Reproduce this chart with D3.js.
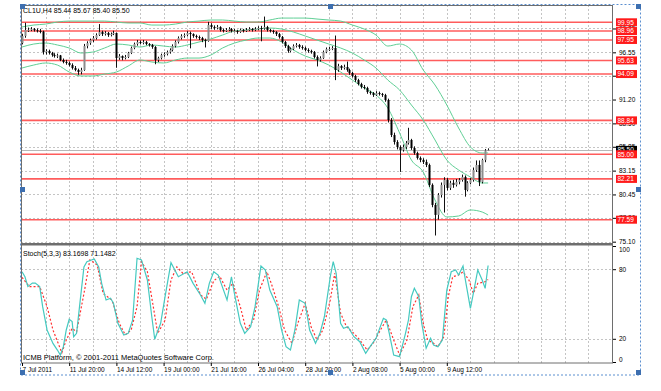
<!DOCTYPE html>
<html>
<head>
<meta charset="utf-8">
<script src="https://cdn.jsdelivr.net/npm/d3@7/dist/d3.min.js"></script>
<style>
  body { margin: 0; background: #fff; }
  text { font-family: "Liberation Sans", Arial, sans-serif; }
</style>
</head>
<body>
<div id="chart"></div>
<script>
//chart data (CL1U, H4)
var opens = [97.60,98.40,99.08,99.10,99.19,99.05,98.97,98.90,96.58,96.70,96.47,96.24,96.13,96.20,95.68,95.45,95.34,95.11,94.77,94.55,
	94.32,94.55,97.26,97.60,97.94,98.17,98.51,98.85,98.62,98.74,98.51,98.62,98.74,95.90,96.13,95.90,96.02,96.47,97.04,97.49,
	97.72,97.60,97.72,97.49,97.38,97.15,95.68,95.90,96.24,96.36,96.58,96.81,97.26,97.72,98.17,98.40,98.51,98.74,98.62,98.40,
	98.28,98.17,97.94,97.83,99.64,99.42,99.30,99.42,99.08,98.97,99.08,99.19,98.90,98.97,98.85,99.08,98.97,99.08,99.19,99.08,
	99.19,99.30,99.25,99.42,99.08,98.97,98.85,98.62,98.28,97.72,97.26,96.70,96.92,97.26,97.38,97.15,97.04,96.81,96.70,96.58,
	96.02,95.68,95.90,96.58,96.85,96.92,97.04,94.55,95.00,94.77,94.89,94.55,94.21,93.87,93.41,92.96,92.62,92.51,92.05,91.94,
	91.71,91.94,91.83,91.71,91.15,88.88,87.18,86.39,85.82,85.48,85.82,86.28,86.62,85.71,85.15,84.58,84.36,84.13,83.79,81.53,
	79.26,78.13,80.39,81.53,82.09,81.19,81.76,81.53,81.87,82.09,82.43,80.96,81.76,82.09,83.22,83.79,81.87,84.36,85.44];
var highs = [98.65,99.90,99.35,99.40,99.30,99.25,99.20,99.00,96.90,96.85,96.60,96.45,96.40,96.25,95.85,95.70,95.50,95.30,95.00,94.70,
	94.80,97.50,97.80,98.10,98.40,98.70,99.75,99.00,98.95,98.85,98.80,99.00,98.80,96.35,96.20,96.25,96.60,97.20,97.65,97.95,
	97.90,97.95,97.85,97.60,97.50,97.25,96.05,96.40,96.55,96.75,97.00,97.45,97.90,98.35,98.60,98.70,98.95,98.90,98.70,98.55,
	98.45,98.30,98.10,100.00,99.85,99.60,99.65,99.50,99.25,99.30,99.40,99.30,99.20,99.10,99.25,99.20,99.30,99.40,99.30,99.40,
	99.50,99.55,100.60,99.55,99.20,99.10,98.95,98.75,98.40,97.85,97.40,97.10,97.45,97.60,97.50,97.35,97.20,97.00,96.85,96.70,
	96.20,96.10,96.75,97.10,97.15,97.25,98.45,95.25,95.10,95.15,95.50,94.70,94.35,94.00,93.55,93.10,92.85,92.65,92.20,92.05,
	92.15,92.10,91.95,91.85,91.30,89.10,87.45,86.60,86.00,86.10,86.50,88.00,86.75,85.90,85.30,84.75,84.55,84.40,83.95,81.70,
	79.50,80.60,81.80,82.40,82.30,82.00,82.10,82.20,82.30,82.70,82.60,81.95,82.30,83.50,84.30,84.30,84.50,85.60,85.67];
var lows = [97.45,98.20,98.85,98.95,98.90,98.80,98.70,96.30,96.30,96.30,96.05,95.95,95.90,95.55,95.30,95.15,94.95,94.60,94.40,94.00,
	94.05,94.45,97.00,97.40,97.70,98.00,98.40,98.40,98.45,98.30,98.35,98.50,94.80,95.70,95.65,95.75,95.90,96.35,96.90,97.30,
	97.45,97.45,97.35,97.20,96.95,95.20,95.45,95.75,96.05,96.20,96.40,96.65,97.10,97.55,98.00,98.20,98.35,97.00,98.20,98.10,
	97.95,97.70,97.10,97.75,99.20,99.10,99.15,98.90,98.80,98.85,98.95,98.80,98.80,98.65,98.75,98.80,98.85,98.95,98.90,98.95,
	99.05,97.80,99.10,98.90,98.80,98.65,98.40,98.10,97.55,97.05,96.50,96.55,96.80,97.10,96.95,96.85,96.65,96.50,96.40,95.85,
	94.95,95.50,95.80,96.45,96.70,96.80,93.40,94.35,94.55,94.60,94.35,94.00,93.70,93.20,92.80,92.45,92.35,91.85,91.75,91.50,
	91.60,91.65,91.50,90.95,88.60,86.95,86.10,85.55,83.00,85.30,85.60,86.10,85.50,84.95,84.40,84.10,83.90,83.55,81.30,79.00,
	75.80,77.60,80.10,78.40,80.90,80.95,81.20,81.35,81.60,81.90,80.20,80.80,81.60,81.90,83.00,81.40,81.70,84.10,85.40];
var closes = [98.40,99.08,99.10,99.19,99.05,98.97,98.90,96.58,96.70,96.47,96.24,96.13,96.20,95.68,95.45,95.34,95.11,94.77,94.55,94.32,
	94.55,97.26,97.60,97.94,98.17,98.51,98.85,98.62,98.74,98.51,98.62,98.74,95.90,96.13,95.90,96.02,96.47,97.04,97.49,97.72,
	97.60,97.72,97.49,97.38,97.15,95.68,95.90,96.24,96.36,96.58,96.81,97.26,97.72,98.17,98.40,98.51,98.74,98.62,98.40,98.28,
	98.17,97.94,97.83,99.64,99.42,99.30,99.42,99.08,98.97,99.08,99.19,98.97,98.97,98.85,99.08,98.97,99.08,99.19,99.08,99.19,
	99.30,99.25,99.42,99.08,98.97,98.85,98.62,98.28,97.72,97.26,96.70,96.92,97.26,97.38,97.15,97.04,96.81,96.70,96.58,96.02,
	95.68,95.90,96.58,96.92,96.92,97.04,94.55,95.00,94.77,94.89,94.55,94.21,93.87,93.41,92.96,92.62,92.51,92.05,91.94,91.71,
	91.94,91.83,91.71,91.15,88.88,87.18,86.39,85.82,85.48,85.82,86.28,86.62,85.71,85.15,84.58,84.36,84.13,83.79,81.53,79.26,
	78.13,80.39,81.53,82.09,81.19,81.76,81.53,81.87,82.09,82.43,80.96,81.76,82.09,83.22,83.79,81.87,84.36,85.44,85.50];

//Bollinger bands, sampled every 4 bars
var bandBars = [0,4,8,12,16,20,24,28,32,36,40,44,48,52,56,60,64,68,72,76,80,84,88,92,96,100,104,108,112,116,120,124,128,132,136,140,144,148,152,156,158];
var bandUpper = [99.42,99.64,99.75,99.98,100.09,100.09,100.09,100.09,99.98,99.87,99.87,99.64,99.64,99.75,99.98,100.09,100.21,100.21,100.09,99.98,
	99.98,100.21,100.43,100.43,100.43,100.32,100.21,100.09,99.64,99.19,98.51,97.26,97.49,96.81,94.55,92.85,90.58,87.98,85.83,85.15,85.15];
var bandMiddle = [97.15,97.49,97.60,97.38,97.04,96.47,96.58,97.04,97.49,97.38,97.15,97.38,97.26,97.15,97.38,97.72,98.06,98.51,98.97,99.08,
	99.19,99.30,99.19,98.85,98.40,97.94,97.49,97.04,96.47,95.68,94.77,93.41,92.28,90.58,88.88,86.62,84.35,83.22,82.43,81.75,81.75];
var bandLower = [94.77,95.11,95.34,95.11,94.32,93.87,93.87,94.09,94.32,95.00,95.68,95.45,95.34,95.68,95.90,95.90,96.24,97.04,97.60,97.94,
	98.17,98.17,97.72,96.81,96.13,95.68,95.11,94.32,93.41,92.51,91.71,90.24,87.41,84.35,82.99,79.82,77.90,78.01,78.69,78.46,78.12];

//stochastic (5,3,3): [bar, value]
var stochMain = [[0,77.8],[1,73.5],[2,65],[3.5,68],[4.5,68],[6,65],[7,47.7],[8.5,27.6],[9.5,21.8],[10.5,16],[12,10.3],[13,6],[14,13],[15,27.6],
	[16,36.8],[17,34.8],[17.5,21.8],[18.5,24.7],[19.5,47.7],[21,82],[22,86.5],[24.5,88.8],[26,82],[27,67.8],[28.5,53.4],[30,54.9],[31,50.6],
	[32.5,33.4],[34.5,23.3],[36,24.7],[37.5,36],[39,89.4],[40.5,88],[42.5,70.7],[44,39],[45,19.6],[47,33.4],[48.5,56.3],[50.5,85.6],[53,73.5],
	[56,77.8],[58,67.8],[60.5,57.8],[62,50.6],[63.5,67.8],[65,77.8],[66.5,75],[67.5,67.8],[69.5,53.4],[71,73.5],[72,59.2],[74,33.4],[75.5,24.7],
	[77.5,30.4],[79,47.7],[81,82.8],[82.5,79.3],[84,62],[86.5,47.7],[88,27.6],[89.5,13.2],[91,10.3],[92.5,27.6],[94,53.4],[96,50.6],[97.5,27.6],
	[99.5,16.1],[101,24.7],[102.5,39],[104.5,73.5],[105.5,86.5],[106.5,76.5],[108,33.4],[109,29.1],[110.5,30.4],[112.5,21.8],[114.5,17.5],
	[116.5,7.5],[118,13.2],[120,20.4],[122.5,37.7],[123.5,36.2],[124.5,24.7],[126,6],[128,4.6],[130,24.7],[131,36.2],[132,56.3],[133,63.5],
	[134.5,56.3],[135.5,33.4],[137,11.8],[138.5,20.4],[139.5,14.7],[141,13.2],[142.5,19],[144,62],[145.5,77.8],[147,79.3],[148,75],[149.5,82.8],
	[150.5,67.8],[152,46.3],[153,59.2],[154.5,79.3],[156,70.7],[157,63.5],[158,83.17]];
var stochSignal = [[0,73],[2.5,65],[6,65],[8.5,47.7],[10.5,27.6],[13.5,8],[15,19],[17,29],[18.5,26],[21,59],[23,88],[25.5,83.6],[27.5,59],
	[30.5,53.4],[33,33.4],[35,23.3],[37,27.6],[39,47.7],[40.5,86.5],[42.5,77.8],[44.5,47.7],[46,24.7],[48.5,36],[50.5,70.7],[52.5,82],[54.5,76.5],
	[57.5,77.8],[60.5,58],[62.5,54],[65,70],[67,74],[69.5,62],[71.5,67.8],[74,47.7],[76,27.6],[78.5,36.2],[80.5,62],[83,77.8],[84.5,67.8],[87,47.7],
	[89,27.6],[91.5,16.1],[93.5,33.4],[96,50.6],[98,30.4],[100,19],[102,27.6],[104.5,53.4],[106,76.5],[108,42],[110,30.4],[112.5,24.7],[114.5,19],
	[117,10.3],[119,16.1],[121.5,27.6],[123.5,36.2],[126,19],[128,6],[130.5,19],[132.5,47.7],[134.5,57.8],[136,33.4],[137.5,19],[139.5,16.1],
	[141,13.2],[143,21.8],[144.5,56.3],[146,73.5],[148,75],[149.5,77.8],[151.5,70.7],[153,59.2],[154.5,67.8],[157,69.2],[158,71.15]];

//support / resistance lines drawn on the chart
var levels = [99.95, 98.96, 97.95, 95.63, 94.09, 88.84, 85.00, 82.21, 77.59];
var bidPrice = 85.50;

//axis labels
var priceTicks = [75.10, 77.80, 80.45, 83.15, 85.85, 88.50, 91.20, 93.90, 96.55, 99.25];
var stochTicks = [100, 80, 20, 0];
var dateBars = [0, 16, 32, 48, 64, 80, 96, 112, 128, 144];
var dateLabels = ["7 Jul 2011", "11 Jul 20:00", "14 Jul 12:00", "19 Jul 00:00", "21 Jul 16:00", "26 Jul 04:00", "28 Jul 20:00", "2 Aug 08:00", "5 Aug 00:00", "9 Aug 12:00"];

//frame
var width = 661, height = 391,
	left = 21, right = 613,
	mainTop = 5, mainBottom = 243,
	subTop = 245, subBottom = 363;

var x = d3.scaleLinear().domain([0, 200]).range([22, 612]);
var y = d3.scaleLinear().domain([74.95, 101.91]).range([mainBottom, mainTop]);
var ys = d3.scaleLinear().domain([0, 100]).range([362, 246]);

var svg = d3.select("#chart")
	.append("svg")
	.attr("width", width)
	.attr("height", height);

svg.append("defs").append("clipPath").attr("id", "mainClip")
	.append("rect").attr("x", left).attr("y", mainTop).attr("width", right - left).attr("height", mainBottom - mainTop);
svg.select("defs").append("clipPath").attr("id", "subClip")
	.append("rect").attr("x", left).attr("y", subTop).attr("width", right - left).attr("height", subBottom - subTop);

//grid
var gridBars = d3.range(8, 200, 8);
var grid = svg.append("g").attr("stroke", "#c4c4c4").attr("stroke-dasharray", "2,2").attr("stroke-width", 1);
grid.selectAll(".vmain").data(gridBars).enter().append("line")
	.attr("x1", function(d){ return Math.round(x(d)) + 0.5; })
	.attr("x2", function(d){ return Math.round(x(d)) + 0.5; })
	.attr("y1", mainTop).attr("y2", mainBottom);
grid.selectAll(".vsub").data(gridBars).enter().append("line")
	.attr("x1", function(d){ return Math.round(x(d)) + 0.5; })
	.attr("x2", function(d){ return Math.round(x(d)) + 0.5; })
	.attr("y1", subTop).attr("y2", subBottom);
grid.selectAll(".hmain").data(priceTicks).enter().append("line")
	.attr("x1", left).attr("x2", right)
	.attr("y1", function(d){ return Math.round(y(d)) + 0.5; })
	.attr("y2", function(d){ return Math.round(y(d)) + 0.5; });
grid.selectAll(".hsub").data([80, 20]).enter().append("line")
	.attr("x1", left).attr("x2", right)
	.attr("y1", function(d){ return Math.round(ys(d)) + 0.5; })
	.attr("y2", function(d){ return Math.round(ys(d)) + 0.5; });

var main = svg.append("g").attr("clip-path", "url(#mainClip)");

//bid line
main.append("line")
	.attr("x1", left).attr("x2", right)
	.attr("y1", Math.round(y(bidPrice)) + 0.5).attr("y2", Math.round(y(bidPrice)) + 0.5)
	.attr("stroke", "#b8b8b8").attr("stroke-width", 1);

//horizontal levels
main.selectAll(".level").data(levels).enter().append("line")
	.attr("x1", left).attr("x2", right)
	.attr("y1", function(d){ return y(d); })
	.attr("y2", function(d){ return y(d); })
	.attr("stroke", "#ff4040").attr("stroke-opacity", 0.85).attr("stroke-width", 1.6);

//bollinger bands
var bandLine = function(vals) {
	return d3.line()
		.x(function(d, i){ return x(bandBars[i]); })
		.y(function(d){ return y(d); })
		.curve(d3.curveMonotoneX)(vals);
};
[bandUpper, bandMiddle, bandLower].forEach(function(vals){
	main.append("path").attr("d", bandLine(vals))
		.attr("fill", "none").attr("stroke", "#5fcf95").attr("stroke-width", 1);
});

//candles
var bars = d3.range(closes.length);
main.selectAll(".wick").data(bars).enter().append("line")
	.attr("x1", function(i){ return Math.round(x(i)) + 0.5; })
	.attr("x2", function(i){ return Math.round(x(i)) + 0.5; })
	.attr("y1", function(i){ return y(highs[i]); })
	.attr("y2", function(i){ return y(lows[i]); })
	.attr("stroke", "#111").attr("stroke-width", 1);
main.selectAll(".body").data(bars).enter().append("rect")
	.attr("x", function(i){ return Math.round(x(i)) - 0.5; })
	.attr("width", 2)
	.attr("y", function(i){ return y(Math.max(opens[i], closes[i])); })
	.attr("height", function(i){ return Math.max(1, Math.abs(y(opens[i]) - y(closes[i]))); })
	.attr("fill", function(i){ return closes[i] >= opens[i] ? "#8c8c8c" : "#000"; });

//stochastic
var sub = svg.append("g").attr("clip-path", "url(#subClip)");
var stochLine = d3.line()
	.x(function(d){ return x(d[0]); })
	.y(function(d){ return ys(d[1]); });
sub.append("path").attr("d", stochLine(stochSignal))
	.attr("fill", "none").attr("stroke", "#ff3030").attr("stroke-width", 1.2).attr("stroke-dasharray", "2,2");
sub.append("path").attr("d", stochLine(stochMain))
	.attr("fill", "none").attr("stroke", "#45c9c0").attr("stroke-width", 1.2);

//frames
svg.append("rect").attr("x", left + 0.5).attr("y", mainTop + 0.5)
	.attr("width", right - left - 1).attr("height", mainBottom - mainTop)
	.attr("fill", "none").attr("stroke", "#6e6e6e").attr("stroke-width", 1);
svg.append("line").attr("x1", left).attr("x2", right).attr("y1", 244).attr("y2", 244)
	.attr("stroke", "#6e6e6e").attr("stroke-width", 2);
svg.append("rect").attr("x", left + 0.5).attr("y", subTop)
	.attr("width", right - left - 1).attr("height", subBottom - subTop)
	.attr("fill", "none").attr("stroke", "#6e6e6e").attr("stroke-width", 1);

//price axis (the level tags drawn later sit on top of some labels, as on the terminal)
var priceAxis = svg.append("g")
	.attr("transform", "translate(" + right + ",0)")
	.call(d3.axisRight(y).tickValues(priceTicks).tickFormat(d3.format(".2f")).tickSize(3).tickPadding(3));
priceAxis.select(".domain").remove();
priceAxis.selectAll("text").attr("font-size", "6.5px").attr("font-family", "Liberation Sans, Arial").attr("fill", "#000");

//stochastic axis
var stochAxis = svg.append("g")
	.attr("transform", "translate(" + right + ",0)")
	.call(d3.axisRight(ys).tickValues(stochTicks).tickSize(3).tickPadding(3));
stochAxis.select(".domain").remove();
stochAxis.selectAll("text").attr("font-size", "6.5px").attr("font-family", "Liberation Sans, Arial").attr("fill", "#000")
	.attr("dy", function(d){ return d == 100 ? "0.85em" : (d == 0 ? "-0.1em" : "0.32em"); });

//date axis
var dateAxis = svg.append("g")
	.attr("transform", "translate(0," + subBottom + ")")
	.call(d3.axisBottom(x).tickValues(dateBars).tickFormat(function(d, i){ return dateLabels[i]; }).tickSize(3).tickPadding(1));
dateAxis.select(".domain").remove();
dateAxis.selectAll("text").attr("font-size", "6.5px").attr("font-family", "Liberation Sans, Arial").attr("fill", "#000")
	.attr("text-anchor", "start").attr("dx", "0");

//bid price label
svg.append("rect").attr("x", 616).attr("y", y(bidPrice) - 4).attr("width", 21).attr("height", 8).attr("fill", "#000");
svg.append("text").attr("x", 617.5).attr("y", y(bidPrice) + 2.4).attr("font-size", "6.5px").attr("fill", "#fff").text(bidPrice.toFixed(2));

//level labels
var tags = svg.selectAll(".tag").data(levels).enter().append("g");
tags.append("rect").attr("x", 616).attr("y", function(d){ return y(d) - 4; }).attr("width", 21).attr("height", 8).attr("fill", "#ff1a1a");
tags.append("text").attr("x", 617.5).attr("y", function(d){ return y(d) + 2.4; })
	.attr("font-size", "6.5px").attr("fill", "#fff").text(function(d){ return d.toFixed(2); });

//titles
svg.append("text").attr("x", 23).attr("y", 12.5).attr("font-size", "7px").attr("fill", "#000")
	.text("CL1U,H4  85.44 85.67 85.40 85.50");
svg.append("text").attr("x", 23).attr("y", 256).attr("font-size", "7px").attr("fill", "#000")
	.text("Stoch(5,3,3) 83.1698 71.1482");
svg.append("text").attr("x", 23).attr("y", 359.5).attr("font-size", "7.5px").attr("fill", "#000")
	.text("ICMB Platform, \u00a9 2001-2011 MetaQuotes Software Corp.");

//selection frame with handles
svg.append("rect").attr("x", 20.5).attr("y", 4.5).attr("width", 620).attr("height", 370.5)
	.attr("fill", "none").attr("stroke", "#5b8fd0").attr("stroke-width", 1).attr("stroke-dasharray", "2,2");
var handles = [[20, 4], [328, 4], [636, 4], [20, 187], [636, 187], [20, 370], [328, 370], [636, 370]];
svg.selectAll(".handle").data(handles).enter().append("rect")
	.attr("x", function(d){ return d[0]; }).attr("y", function(d){ return d[1]; })
	.attr("width", 5).attr("height", 5).attr("fill", "#3d6fb0");
</script>
</body>
</html>
